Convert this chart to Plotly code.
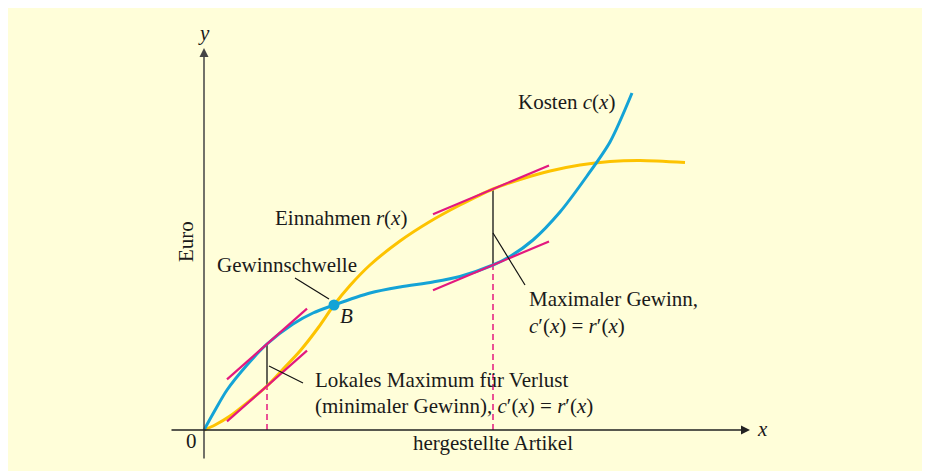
import plotly.graph_objects as go

# ---- data (units: 1 unit = 10 px at the reference scale) ----
cost_x = [0, 1.0, 2.3, 4.3, 6.3, 8.9, 10.9, 13.0, 16.6, 19.6, 22.9, 25.6, 28.9, 30.6, 32.9, 35.6, 38.3, 40.6, 42.8]
cost_y = [0, 1.8, 4.0, 6.5, 8.6, 10.6, 11.7, 12.5, 13.7, 14.3, 14.8, 15.35, 16.5, 17.35, 19.0, 21.8, 25.4, 28.8, 33.7]

rev_x = [0, 1.1, 2.6, 4.4, 6.3, 8.1, 9.6, 11.4, 13.0, 14.6, 16.6, 19.6, 22.6, 25.6, 28.9, 31.6, 34.6, 37.6, 40.6, 43.6, 48.1]
rev_y = [0, 0.5, 1.4, 2.8, 4.4, 6.3, 7.9, 10.2, 12.5, 14.45, 16.5, 18.9, 20.85, 22.5, 24.1, 25.05, 25.9, 26.5, 26.85, 26.95, 26.75]

# points where c'(x) = r'(x)
tan_x = [6.3, 28.9]
tan_cost = [8.6, 16.5]
tan_rev = [4.4, 24.1]
tan_slope = [0.886, 0.42]
tan_left = [4.0, 6.0]
tan_right = [4.0, 5.6]

# break-even point B
b_x = [13.0]
b_y = [12.5]

BLUE = "#14A3D6"
GOLD = "#FDC300"
PINK = "#E3187F"
BG = "#FFFED9"
FONT = "Liberation Serif"
FS = 21

fig = go.Figure()

# dashed verticals to the x-axis
for xi, yl in zip(tan_x, [min(a, b) for a, b in zip(tan_cost, tan_rev)]):
    fig.add_trace(go.Scatter(x=[xi, xi], y=[0, yl], mode="lines",
                             line=dict(color=PINK, width=1.5, dash="6px,4px"), hoverinfo="skip"))
# black vertical connector
for xi, a, b in zip(tan_x, tan_cost, tan_rev):
    fig.add_trace(go.Scatter(x=[xi, xi], y=[a, b], mode="lines",
                             line=dict(color="#111111", width=1.3), hoverinfo="skip"))

# curves
fig.add_trace(go.Scatter(x=rev_x, y=rev_y, mode="lines",
                         line=dict(color=GOLD, width=3, shape="spline", smoothing=0.8), hoverinfo="skip"))
fig.add_trace(go.Scatter(x=cost_x, y=cost_y, mode="lines",
                         line=dict(color=BLUE, width=3, shape="spline", smoothing=0.8), hoverinfo="skip"))

# tangents
for xi, yc, yr, m, l, r in zip(tan_x, tan_cost, tan_rev, tan_slope, tan_left, tan_right):
    for y0 in (yc, yr):
        fig.add_trace(go.Scatter(x=[xi - l, xi + r], y=[y0 - m * l, y0 + m * r], mode="lines",
                                 line=dict(color=PINK, width=2.2), hoverinfo="skip"))

# leader lines
leaders = [((9.1, 15.2), (12.5, 13.1)), ((6.5, 6.4), (9.9, 4.7)), ((28.9, 19.7), (32.1, 14.5))]
for (x0, y0), (x1, y1) in leaders:
    fig.add_trace(go.Scatter(x=[x0, x1], y=[y0, y1], mode="lines",
                             line=dict(color="#111111", width=1.2), hoverinfo="skip"))

fig.add_trace(go.Scatter(x=b_x, y=b_y, mode="markers", marker=dict(color=BLUE, size=11), hoverinfo="skip"))

# axes with arrows
fig.add_annotation(x=0, y=38.2, ax=0, ay=-3.0, xref="x", yref="y", axref="x", ayref="y",
                   text="", showarrow=True, arrowhead=2, arrowsize=1.2, arrowwidth=1.5, arrowcolor="#444444")
fig.add_annotation(x=54.6, y=0, ax=-3.4, ay=0, xref="x", yref="y", axref="x", ayref="y",
                   text="", showarrow=True, arrowhead=2, arrowsize=1.2, arrowwidth=1.5, arrowcolor="#222222")

def label(x, y, text, anchor="left", size=FS, angle=0):
    fig.add_annotation(x=x, y=y, xref="x", yref="y", text=text, showarrow=False,
                       xanchor=anchor, yanchor="middle", textangle=angle,
                       font=dict(family=FONT, size=size, color="#1a1a1a"))

label(31.2, 32.8, "Kosten <i>c</i>(<i>x</i>)")
label(6.9, 21.2, "Einnahmen <i>r</i>(<i>x</i>)")
label(1.1, 16.5, "Gewinnschwelle")
label(13.4, 11.4, "<i>B</i>")
label(10.9, 5.0, "Lokales Maximum für Verlust")
label(10.9, 2.4, "(minimaler Gewinn), <i>c</i>′(<i>x</i>) = <i>r</i>′(<i>x</i>)")
label(32.3, 13.1, "Maximaler Gewinn,")
label(32.3, 10.4, "<i>c</i>′(<i>x</i>) = <i>r</i>′(<i>x</i>)")
label(28.9, -1.3, "hergestellte Artikel", anchor="center")
label(-1.3, -1.1, "0", anchor="center")
label(-1.8, 18.8, "Euro", anchor="center", angle=-90)
label(0, 39.7, "<i>y</i>", anchor="center")
label(55.1, 0.1, "<i>x</i>")

# the page places the figure 8 px from the window edge; ranges compensate for that
fig.update_layout(
    width=930, height=471, margin=dict(l=0, r=0, t=0, b=0),
    paper_bgcolor=BG, plot_bgcolor="rgba(0,0,0,0)", showlegend=False,
    xaxis=dict(range=[-19.6, 73.4], visible=False, fixedrange=True),
    yaxis=dict(range=[-4.9, 42.2], visible=False, fixedrange=True),
)

fig.write_html("out.html")
